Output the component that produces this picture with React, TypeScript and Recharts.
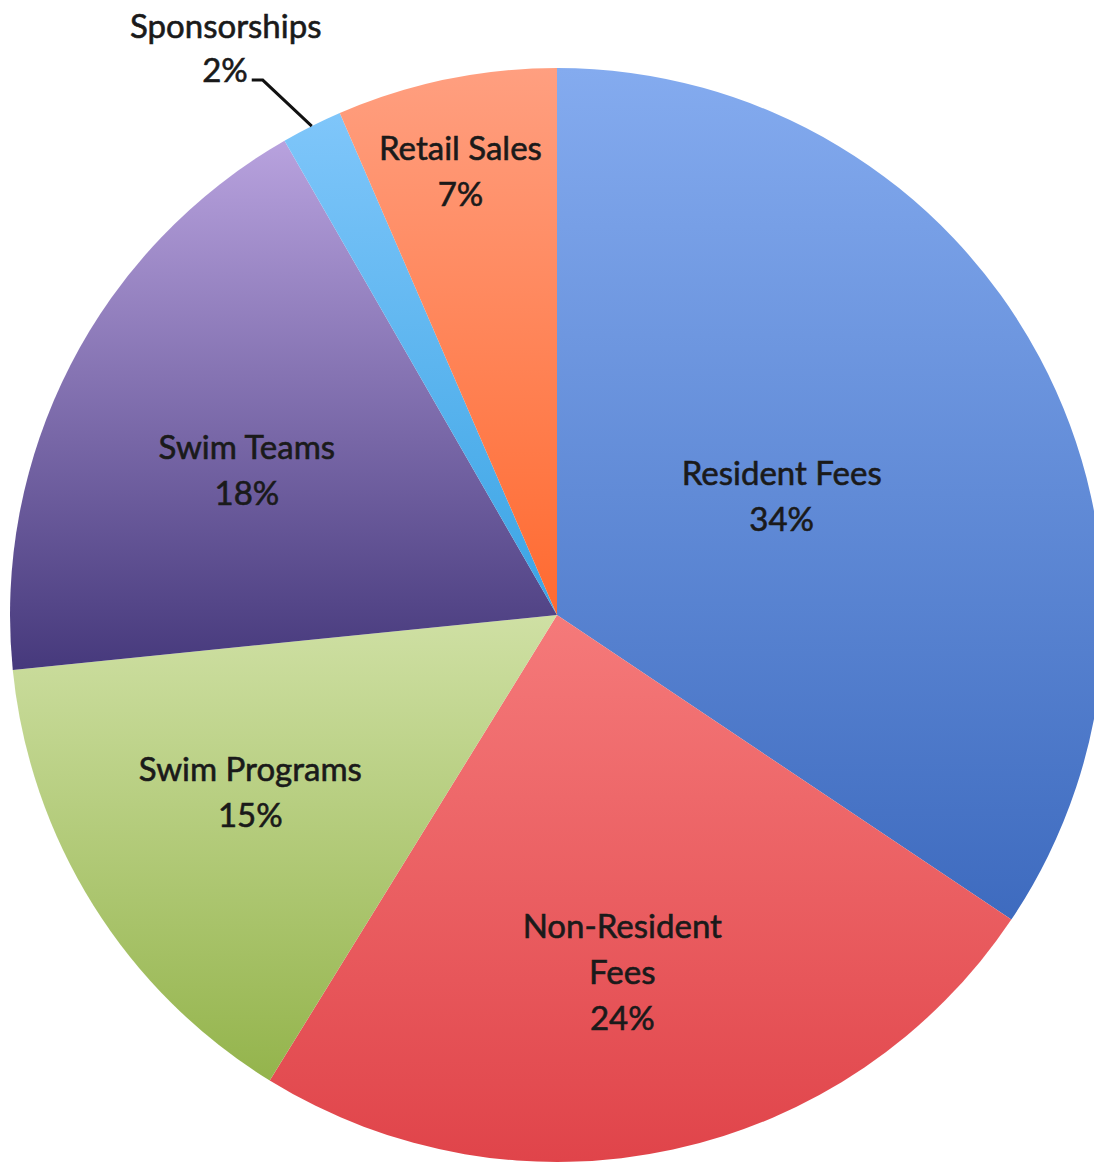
import { Cell, Pie, PieChart } from "recharts";

const categories = ["Resident Fees", "Non-Resident Fees", "Swim Programs", "Swim Teams", "Sponsorships", "Retail Sales"];
// slice sizes
const shares = [34.4, 24.4, 14.6, 18.3, 1.8, 6.5];
// percentages as printed on the chart
const printed = ["34%", "24%", "15%", "18%", "2%", "7%"];
const labelLines = [["Resident Fees"], ["Non-Resident", "Fees"], ["Swim Programs"], ["Swim Teams"], ["Sponsorships"], ["Retail Sales"]];

const data = categories.map((name, i) => ({ name, value: shares[i] }));

// top / bottom colours of each slice gradient
const gradients = [
    ["#84abef", "#3e6bbf"],
    ["#f57a7a", "#e0444a"],
    ["#cfe0a4", "#94b44c"],
    ["#b8a2de", "#46397c"],
    ["#7fc6fa", "#3aa4e4"],
    ["#ff9f80", "#ff6a30"],
];

// label placement: radius fraction + clock-angle nudge (deg)
const labelPos = [
    { r: 0.466, a: -0.1 },
    { r: 0.662, a: 1.85 },
    { r: 0.646, a: 2.25 },
    { r: 0.627, a: -1.9 },
    { r: 1, a: 0 },
    { r: 0.832, a: -0.55 },
];

const FONT = "Lato, 'Open Sans', sans-serif";
const LINE_H = 46;
const textStyle = { fontFamily: FONT, fontSize: 33, fill: "#1a1a1a", stroke: "#1a1a1a", strokeWidth: 0.6 };

function renderLabel(props: any) {
    const { cx, cy, midAngle, outerRadius, index } = props;
    const pos = labelPos[index];
    const clock = ((90 - midAngle + pos.a) * Math.PI) / 180;
    const x = cx + outerRadius * pos.r * Math.sin(clock);
    const y = cy - outerRadius * pos.r * Math.cos(clock);
    const lines = [...labelLines[index], printed[index]];

    if (index === 4) {
        // small slice: label outside with leader line
        const ex = x - 49;
        const ey = y - 46;
        const hx = ex - 11;
        return (
            <g>
                <polyline points={`${x},${y} ${ex},${ey} ${hx},${ey}`} fill="none" stroke="#111" strokeWidth={3} />
                <text x={hx - 26} y={ey - 55} textAnchor="middle" dominantBaseline="central" {...textStyle}>{lines[0]}</text>
                <text x={hx - 4} y={ey - 11} textAnchor="end" dominantBaseline="central" {...textStyle}>{lines[1]}</text>
            </g>
        );
    }

    const top = y - ((lines.length - 1) * LINE_H) / 2;
    return (
        <g>
            {lines.map((t, i) => (
                <text key={i} x={x} y={top + i * LINE_H} textAnchor="middle" dominantBaseline="central" {...textStyle}>
                    {t}
                </text>
            ))}
        </g>
    );
}

export default function App() {
    return (
        <div style={{ position: "absolute", left: 0, top: 0, width: 1094, height: 1167, background: "#fff" }}>
            <PieChart width={1094} height={1167} margin={{ top: 0, right: 0, bottom: 0, left: 0 }}>
                <defs>
                    {gradients.map(([a, b], i) => (
                        <linearGradient key={i} id={`slice${i}`} x1="0" y1="0" x2="0" y2="1">
                            <stop offset="0%" stopColor={a} />
                            <stop offset="100%" stopColor={b} />
                        </linearGradient>
                    ))}
                </defs>
                <Pie
                    data={data}
                    dataKey="value"
                    nameKey="name"
                    cx={557}
                    cy={615}
                    outerRadius={547}
                    startAngle={90}
                    endAngle={-270}
                    stroke="none"
                    label={renderLabel}
                    labelLine={false}
                    isAnimationActive={false}
                >
                    {data.map((d, i) => (
                        <Cell key={d.name} fill={`url(#slice${i})`} />
                    ))}
                </Pie>
            </PieChart>
        </div>
    );
}
